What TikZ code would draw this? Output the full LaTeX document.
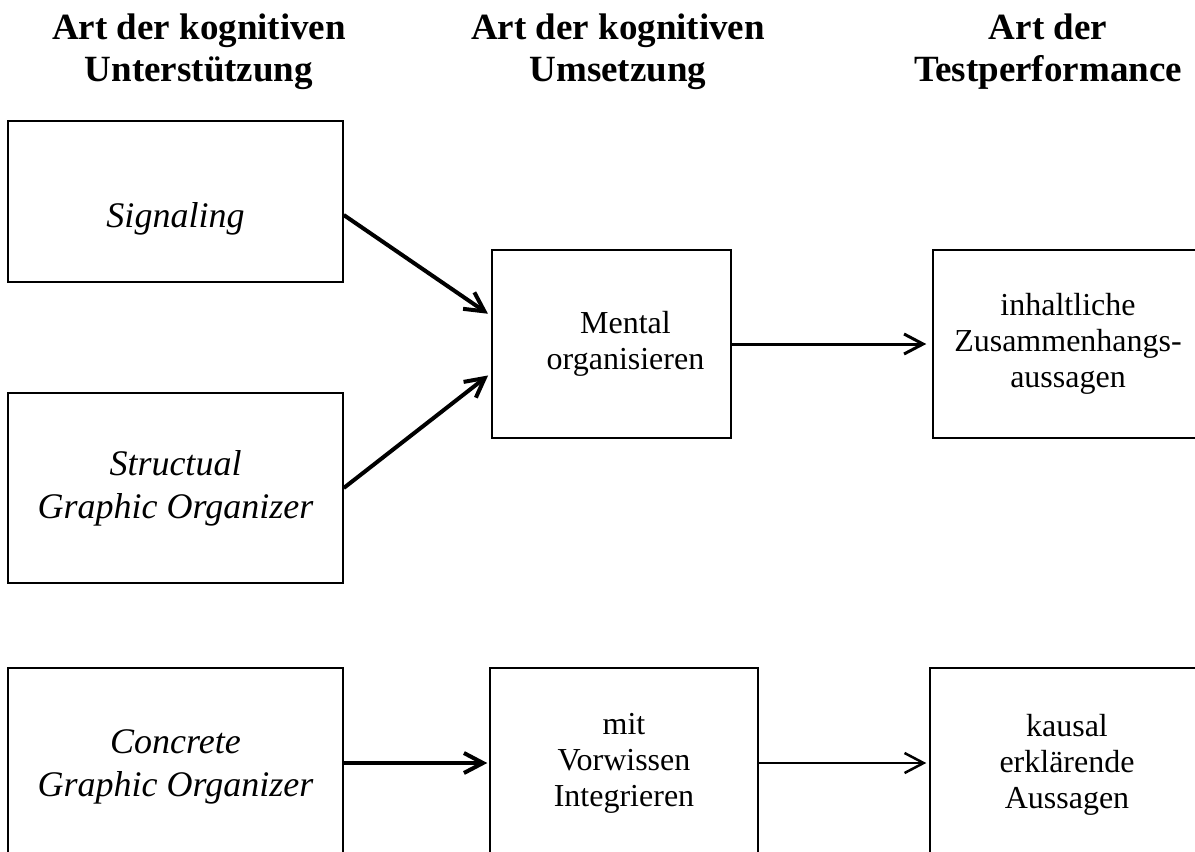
\documentclass[tikz,border=0pt]{standalone}
\usepackage{fontspec}
\setmainfont{Liberation Serif}
\usetikzlibrary{arrows.meta}

\begin{document}
\begin{tikzpicture}[x=0.5pt,y=-0.5pt,
    box/.style={draw, line width=0.75pt, align=center, inner sep=0pt, font=\fontsize{16}{18}\selectfont},
    ibox/.style={box, font=\fontsize{18}{21.5}\selectfont\itshape},
    head/.style={align=center, font=\fontsize{18.5}{21}\selectfont\bfseries},
    arr/.style={-{Straight Barb[length=9.5pt,width=10pt]}}]
  \clip (0,0) rectangle (1195,852);
  % column headings
  \node[head] (h1) at (199,52) {Art der kognitiven\\Unterstützung};
  \node[head] (h2) at (618,52) {Art der kognitiven\\Umsetzung};
  \node[head] (h3) at (1048,52) {Art der\\Testperformance};
  % support
  \node[ibox, minimum width=167.5pt, minimum height=80.5pt] (signal) at (175.5,201.5) {\raisebox{-13pt}[0pt][0pt]{Signaling}};
  \node[ibox, minimum width=167.5pt, minimum height=95pt] (struct) at (175.5,488) {Structual\\Graphic Organizer};
  \node[ibox, minimum width=167.5pt, minimum height=99pt] (concrete) at (175.5,767) {Concrete\\Graphic Organizer};
  % processing
  \node[box, minimum width=119.5pt, minimum height=94pt] (mental) at (611.5,344) {\hspace*{14pt}Mental\\\hspace*{14pt}organisieren};
  \node[box, minimum width=134pt, minimum height=95pt] (mit) at (624,763) {mit\\Vorwissen\\Integrieren};
  % test performance
  \node[box, minimum width=135pt, minimum height=94pt] (inhalt) at (1068,344) {inhaltliche\\Zusammenhangs-\\aussagen};
  \node[box, minimum width=137pt, minimum height=97pt] (kausal) at (1067,765) {kausal\\erklärende\\Aussagen};
  % arrows
  \draw[arr, line width=2pt, shorten >=2pt] ([yshift=-6.75pt]signal.east) -- ([yshift=14pt]mental.west);
  \draw[arr, line width=2pt, shorten >=2pt] (struct.east) -- ([yshift=-14.5pt]mental.west);
  \draw[arr, line width=1.5pt, shorten >=3pt] (mental.east) -- (inhalt.west);
  \draw[arr, line width=2pt, shorten >=1pt] (concrete.east |- mit.west) -- (mit.west);
  \draw[arr, line width=1.25pt, shorten >=1.5pt] (mit.east) -- (mit.east -| kausal.west);
\end{tikzpicture}
\end{document}
